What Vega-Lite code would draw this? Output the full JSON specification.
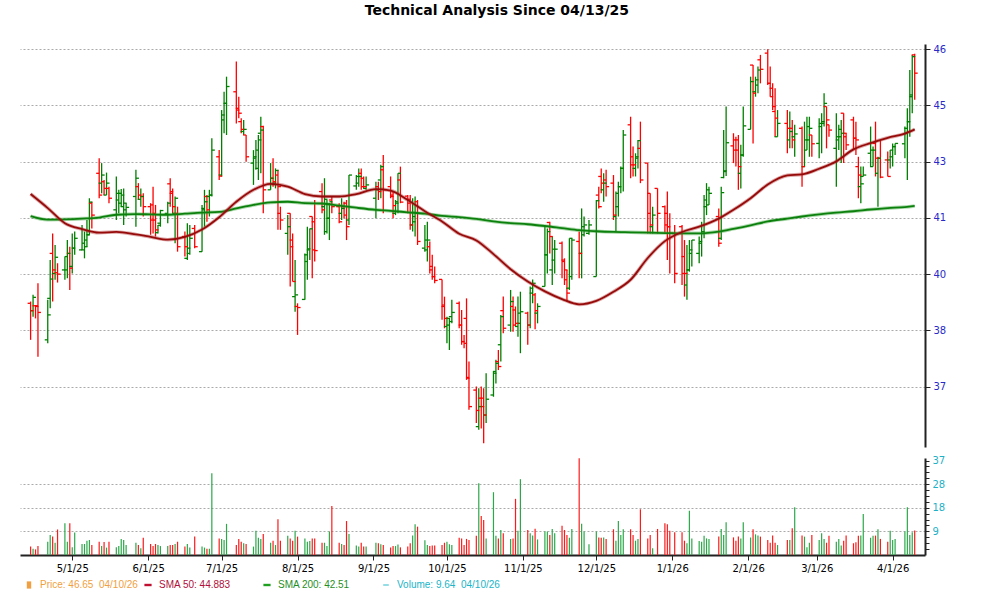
{
  "$schema": "https://vega.github.io/schema/vega-lite/v6.json",
  "autosize": {"type": "pad"},
  "padding": {"left": 20, "top": 4, "right": 5, "bottom": 5},
  "background": "white",
  "title": {"text": "Technical Analysis Since 04/13/25", "anchor": "middle", "font": "DejaVu Sans", "fontSize": 14, "fontWeight": "bold", "color": "#000000", "offset": 26, "dx": 14},
  "spacing": 11,
  "bounds": "flush",
  "datasets": {
    "ohlc": [
      {"d":"2025-04-14","o":38.97,"h":39.02,"l":37.93,"c":38.76,"v":3.3},
      {"d":"2025-04-15","o":38.76,"h":39.21,"l":38.59,"c":39.14,"v":2.4},
      {"d":"2025-04-16","o":38.90,"h":38.92,"l":38.54,"c":38.88,"v":2.2},
      {"d":"2025-04-17","o":38.90,"h":39.54,"l":37.45,"c":38.71,"v":3.5},
      {"d":"2025-04-21","o":37.93,"h":39.07,"l":37.83,"c":38.64,"v":5.2},
      {"d":"2025-04-22","o":39.11,"h":40.20,"l":38.83,"c":39.66,"v":7.8},
      {"d":"2025-04-23","o":40.39,"h":40.96,"l":39.02,"c":39.92,"v":7.2},
      {"d":"2025-04-24","o":39.82,"h":40.63,"l":39.64,"c":40.28,"v":4.8},
      {"d":"2025-04-25","o":39.84,"h":40.11,"l":39.56,"c":39.80,"v":10.0},
      {"d":"2025-04-28","o":39.92,"h":40.30,"l":39.64,"c":40.30,"v":12.4},
      {"d":"2025-04-29","o":39.92,"h":40.77,"l":39.68,"c":40.39,"v":5.2},
      {"d":"2025-04-30","o":40.39,"h":40.58,"l":39.35,"c":39.97,"v":12.4},
      {"d":"2025-05-01","o":40.02,"h":40.96,"l":39.82,"c":40.54,"v":3.0},
      {"d":"2025-05-02","o":40.54,"h":41.01,"l":40.35,"c":40.82,"v":8.8},
      {"d":"2025-05-05","o":40.49,"h":41.20,"l":40.49,"c":40.68,"v":4.3},
      {"d":"2025-05-06","o":40.49,"h":41.01,"l":40.25,"c":40.58,"v":4.3},
      {"d":"2025-05-07","o":40.77,"h":41.34,"l":40.58,"c":40.92,"v":5.6},
      {"d":"2025-05-08","o":40.92,"h":41.96,"l":40.92,"c":41.85,"v":5.9},
      {"d":"2025-05-09","o":41.82,"h":41.86,"l":41.10,"c":41.48,"v":3.9},
      {"d":"2025-05-12","o":42.67,"h":43.10,"l":41.96,"c":42.05,"v":5.2},
      {"d":"2025-05-13","o":42.39,"h":42.96,"l":42.10,"c":42.62,"v":3.5},
      {"d":"2025-05-14","o":42.43,"h":42.48,"l":42.05,"c":42.24,"v":5.1},
      {"d":"2025-05-15","o":42.05,"h":42.69,"l":42.05,"c":42.39,"v":2.9},
      {"d":"2025-05-16","o":42.24,"h":42.29,"l":41.82,"c":41.96,"v":5.2},
      {"d":"2025-05-19","o":41.63,"h":42.58,"l":41.34,"c":42.10,"v":3.0},
      {"d":"2025-05-20","o":41.91,"h":42.20,"l":41.53,"c":42.10,"v":3.5},
      {"d":"2025-05-21","o":41.82,"h":42.22,"l":41.72,"c":42.05,"v":6.3},
      {"d":"2025-05-22","o":41.72,"h":42.24,"l":41.20,"c":41.82,"v":5.9},
      {"d":"2025-05-23","o":41.63,"h":41.82,"l":41.44,"c":41.70,"v":3.9},
      {"d":"2025-05-27","o":42.01,"h":42.77,"l":41.15,"c":42.53,"v":4.8},
      {"d":"2025-05-28","o":42.29,"h":42.39,"l":41.91,"c":42.05,"v":3.9},
      {"d":"2025-05-29","o":41.93,"h":42.24,"l":41.72,"c":42.01,"v":2.6},
      {"d":"2025-05-30","o":42.01,"h":42.10,"l":41.44,"c":41.72,"v":6.8},
      {"d":"2025-06-02","o":41.72,"h":41.82,"l":40.92,"c":41.34,"v":4.3},
      {"d":"2025-06-03","o":41.77,"h":42.29,"l":40.96,"c":41.34,"v":3.5},
      {"d":"2025-06-04","o":41.53,"h":41.77,"l":40.87,"c":41.06,"v":4.3},
      {"d":"2025-06-05","o":40.98,"h":41.20,"l":40.96,"c":41.19,"v":3.9},
      {"d":"2025-06-06","o":41.25,"h":41.63,"l":41.15,"c":41.61,"v":3.5},
      {"d":"2025-06-09","o":41.53,"h":41.86,"l":41.25,"c":41.82,"v":3.5},
      {"d":"2025-06-10","o":42.37,"h":42.53,"l":41.72,"c":42.15,"v":3.9},
      {"d":"2025-06-11","o":42.10,"h":42.24,"l":41.53,"c":41.72,"v":3.9},
      {"d":"2025-06-12","o":41.53,"h":42.01,"l":40.68,"c":41.96,"v":4.3},
      {"d":"2025-06-13","o":41.53,"h":41.72,"l":40.44,"c":40.58,"v":5.2},
      {"d":"2025-06-16","o":40.87,"h":41.01,"l":40.30,"c":40.58,"v":3.3},
      {"d":"2025-06-17","o":40.25,"h":41.25,"l":40.20,"c":40.54,"v":4.3},
      {"d":"2025-06-18","o":40.39,"h":41.20,"l":40.35,"c":40.82,"v":2.9},
      {"d":"2025-06-20","o":41.10,"h":41.20,"l":40.54,"c":40.58,"v":7.2},
      {"d":"2025-06-23","o":40.44,"h":41.77,"l":40.44,"c":41.63,"v":3.3},
      {"d":"2025-06-24","o":41.67,"h":42.20,"l":41.15,"c":41.86,"v":2.9},
      {"d":"2025-06-25","o":42.01,"h":42.05,"l":41.29,"c":41.63,"v":2.4},
      {"d":"2025-06-26","o":42.01,"h":42.20,"l":41.44,"c":42.05,"v":2.4},
      {"d":"2025-06-27","o":42.05,"h":43.67,"l":42.01,"c":43.33,"v":32.0},
      {"d":"2025-06-30","o":43.14,"h":43.33,"l":42.48,"c":42.59,"v":6.5},
      {"d":"2025-07-01","o":42.62,"h":44.47,"l":42.58,"c":44.33,"v":6.3},
      {"d":"2025-07-02","o":44.19,"h":44.99,"l":43.81,"c":44.66,"v":5.9},
      {"d":"2025-07-03","o":44.66,"h":45.42,"l":43.76,"c":45.14,"v":12.2},
      {"d":"2025-07-07","o":44.99,"h":45.85,"l":44.09,"c":44.47,"v":3.9},
      {"d":"2025-07-08","o":44.52,"h":44.85,"l":44.24,"c":44.38,"v":6.3},
      {"d":"2025-07-09","o":44.14,"h":44.24,"l":43.81,"c":43.92,"v":5.2},
      {"d":"2025-07-10","o":43.86,"h":44.19,"l":43.76,"c":43.92,"v":4.6},
      {"d":"2025-07-11","o":43.76,"h":43.76,"l":43.00,"c":43.14,"v":4.3},
      {"d":"2025-07-14","o":42.96,"h":43.33,"l":42.34,"c":43.14,"v":3.3},
      {"d":"2025-07-15","o":43.10,"h":43.62,"l":42.77,"c":43.33,"v":9.5},
      {"d":"2025-07-16","o":42.81,"h":43.76,"l":42.48,"c":43.62,"v":6.8},
      {"d":"2025-07-17","o":43.81,"h":44.28,"l":42.67,"c":43.90,"v":6.3},
      {"d":"2025-07-18","o":44.00,"h":44.02,"l":41.53,"c":42.20,"v":8.2},
      {"d":"2025-07-21","o":42.20,"h":42.96,"l":42.20,"c":42.53,"v":4.8},
      {"d":"2025-07-22","o":42.53,"h":43.10,"l":42.29,"c":42.43,"v":5.6},
      {"d":"2025-07-23","o":42.39,"h":42.81,"l":42.24,"c":42.75,"v":3.9},
      {"d":"2025-07-24","o":42.62,"h":42.77,"l":41.06,"c":42.29,"v":14.0},
      {"d":"2025-07-25","o":41.53,"h":41.72,"l":41.06,"c":41.34,"v":5.6},
      {"d":"2025-07-28","o":40.96,"h":41.48,"l":40.35,"c":41.15,"v":7.5},
      {"d":"2025-07-29","o":41.53,"h":41.53,"l":39.45,"c":40.58,"v":6.5},
      {"d":"2025-07-30","o":40.77,"h":40.96,"l":39.59,"c":39.59,"v":5.6},
      {"d":"2025-07-31","o":39.16,"h":40.20,"l":38.73,"c":39.21,"v":9.5},
      {"d":"2025-08-01","o":38.88,"h":38.97,"l":38.07,"c":38.85,"v":7.2},
      {"d":"2025-08-04","o":39.08,"h":40.39,"l":39.07,"c":40.16,"v":6.5},
      {"d":"2025-08-05","o":40.35,"h":41.15,"l":39.64,"c":40.52,"v":5.2},
      {"d":"2025-08-06","o":40.49,"h":41.10,"l":40.20,"c":41.09,"v":5.5},
      {"d":"2025-08-07","o":41.44,"h":41.44,"l":39.68,"c":40.49,"v":6.5},
      {"d":"2025-08-08","o":41.29,"h":41.91,"l":40.16,"c":40.47,"v":6.5},
      {"d":"2025-08-11","o":42.15,"h":42.39,"l":41.53,"c":41.63,"v":4.8},
      {"d":"2025-08-12","o":41.72,"h":42.53,"l":40.92,"c":41.93,"v":4.8},
      {"d":"2025-08-13","o":41.01,"h":41.91,"l":40.96,"c":41.39,"v":3.5},
      {"d":"2025-08-14","o":41.39,"h":41.82,"l":40.77,"c":41.86,"v":9.2},
      {"d":"2025-08-15","o":41.91,"h":42.01,"l":41.53,"c":41.72,"v":19.2},
      {"d":"2025-08-18","o":41.72,"h":41.82,"l":41.25,"c":41.29,"v":4.8},
      {"d":"2025-08-19","o":41.53,"h":41.96,"l":41.34,"c":41.67,"v":4.3},
      {"d":"2025-08-20","o":41.72,"h":41.86,"l":41.39,"c":41.48,"v":3.9},
      {"d":"2025-08-21","o":41.82,"h":41.91,"l":40.77,"c":41.15,"v":13.3},
      {"d":"2025-08-22","o":41.34,"h":42.62,"l":41.20,"c":42.62,"v":8.2},
      {"d":"2025-08-25","o":42.31,"h":42.62,"l":42.20,"c":42.58,"v":3.7},
      {"d":"2025-08-26","o":42.39,"h":42.81,"l":42.29,"c":42.58,"v":3.3},
      {"d":"2025-08-27","o":42.67,"h":42.81,"l":42.20,"c":42.29,"v":4.8},
      {"d":"2025-08-28","o":42.53,"h":42.58,"l":42.24,"c":42.29,"v":3.3},
      {"d":"2025-08-29","o":42.24,"h":42.58,"l":42.20,"c":42.34,"v":3.3},
      {"d":"2025-09-02","o":41.96,"h":42.43,"l":41.39,"c":42.20,"v":4.8},
      {"d":"2025-09-03","o":42.29,"h":42.43,"l":41.91,"c":42.15,"v":4.6},
      {"d":"2025-09-04","o":42.48,"h":42.91,"l":41.96,"c":42.86,"v":4.2},
      {"d":"2025-09-05","o":42.77,"h":43.19,"l":41.53,"c":42.20,"v":3.9},
      {"d":"2025-09-08","o":42.29,"h":42.58,"l":41.96,"c":42.01,"v":2.9},
      {"d":"2025-09-09","o":42.05,"h":42.15,"l":41.39,"c":41.75,"v":3.5},
      {"d":"2025-09-10","o":41.53,"h":41.91,"l":41.48,"c":41.82,"v":3.5},
      {"d":"2025-09-11","o":41.86,"h":42.67,"l":41.53,"c":42.67,"v":4.1},
      {"d":"2025-09-12","o":42.48,"h":42.86,"l":41.82,"c":41.85,"v":3.0},
      {"d":"2025-09-15","o":42.02,"h":42.05,"l":41.53,"c":41.93,"v":3.3},
      {"d":"2025-09-16","o":41.82,"h":42.05,"l":41.06,"c":41.20,"v":4.6},
      {"d":"2025-09-17","o":41.20,"h":41.96,"l":41.01,"c":41.29,"v":7.6},
      {"d":"2025-09-18","o":41.44,"h":42.01,"l":40.87,"c":41.53,"v":12.0},
      {"d":"2025-09-19","o":41.86,"h":41.91,"l":40.63,"c":40.73,"v":11.1},
      {"d":"2025-09-22","o":40.54,"h":41.20,"l":40.44,"c":40.77,"v":5.8},
      {"d":"2025-09-23","o":40.49,"h":41.29,"l":40.16,"c":40.77,"v":3.9},
      {"d":"2025-09-24","o":40.58,"h":40.73,"l":39.82,"c":40.02,"v":3.5},
      {"d":"2025-09-25","o":39.92,"h":40.35,"l":39.64,"c":39.73,"v":3.7},
      {"d":"2025-09-26","o":39.73,"h":40.02,"l":39.54,"c":39.62,"v":3.7},
      {"d":"2025-09-29","o":39.65,"h":39.65,"l":38.50,"c":38.92,"v":3.9},
      {"d":"2025-09-30","o":38.88,"h":39.16,"l":38.26,"c":38.54,"v":4.8},
      {"d":"2025-10-01","o":38.31,"h":38.59,"l":37.83,"c":38.54,"v":5.2},
      {"d":"2025-10-02","o":38.35,"h":38.54,"l":37.64,"c":38.45,"v":4.2},
      {"d":"2025-10-03","o":38.59,"h":39.07,"l":38.40,"c":38.71,"v":3.9},
      {"d":"2025-10-06","o":38.97,"h":39.02,"l":38.26,"c":38.35,"v":6.8},
      {"d":"2025-10-07","o":38.35,"h":38.78,"l":37.79,"c":37.88,"v":6.5},
      {"d":"2025-10-08","o":37.88,"h":38.07,"l":37.69,"c":37.83,"v":3.9},
      {"d":"2025-10-09","o":38.54,"h":39.11,"l":36.79,"c":36.84,"v":6.3},
      {"d":"2025-10-10","o":36.86,"h":37.31,"l":35.94,"c":36.03,"v":5.9},
      {"d":"2025-10-13","o":36.50,"h":36.60,"l":35.56,"c":35.92,"v":7.5},
      {"d":"2025-10-14","o":35.46,"h":36.55,"l":35.37,"c":36.03,"v":28.1},
      {"d":"2025-10-15","o":36.27,"h":36.60,"l":35.41,"c":36.03,"v":15.3},
      {"d":"2025-10-16","o":36.27,"h":36.55,"l":34.99,"c":35.79,"v":13.7},
      {"d":"2025-10-17","o":35.79,"h":36.98,"l":35.56,"c":36.24,"v":6.5},
      {"d":"2025-10-20","o":36.36,"h":37.03,"l":36.31,"c":36.98,"v":24.6},
      {"d":"2025-10-21","o":37.03,"h":37.36,"l":36.69,"c":37.26,"v":7.5},
      {"d":"2025-10-22","o":37.31,"h":37.64,"l":37.07,"c":37.17,"v":6.5},
      {"d":"2025-10-23","o":37.79,"h":38.64,"l":37.31,"c":38.59,"v":9.8},
      {"d":"2025-10-24","o":38.76,"h":39.16,"l":38.12,"c":38.26,"v":8.5},
      {"d":"2025-10-27","o":38.35,"h":39.35,"l":38.16,"c":39.02,"v":6.3},
      {"d":"2025-10-28","o":38.88,"h":39.16,"l":38.16,"c":38.35,"v":6.5},
      {"d":"2025-10-29","o":38.78,"h":38.88,"l":38.31,"c":38.40,"v":22.0},
      {"d":"2025-10-30","o":38.31,"h":39.16,"l":38.02,"c":38.69,"v":9.5},
      {"d":"2025-10-31","o":38.40,"h":39.30,"l":37.55,"c":38.73,"v":29.7},
      {"d":"2025-11-03","o":38.69,"h":38.73,"l":37.79,"c":38.35,"v":9.8},
      {"d":"2025-11-04","o":38.35,"h":39.45,"l":38.26,"c":39.40,"v":8.5},
      {"d":"2025-11-05","o":39.26,"h":39.65,"l":38.97,"c":39.54,"v":7.6},
      {"d":"2025-11-06","o":39.21,"h":39.26,"l":38.23,"c":38.76,"v":10.3},
      {"d":"2025-11-07","o":38.69,"h":38.97,"l":38.40,"c":38.88,"v":6.1},
      {"d":"2025-11-10","o":39.45,"h":41.15,"l":39.45,"c":40.35,"v":9.2},
      {"d":"2025-11-11","o":40.35,"h":41.10,"l":39.82,"c":41.01,"v":9.2},
      {"d":"2025-11-12","o":41.27,"h":41.29,"l":40.39,"c":40.87,"v":7.8},
      {"d":"2025-11-13","o":39.92,"h":40.87,"l":39.49,"c":40.51,"v":10.2},
      {"d":"2025-11-14","o":40.20,"h":40.77,"l":39.82,"c":40.51,"v":8.5},
      {"d":"2025-11-17","o":40.68,"h":40.73,"l":39.68,"c":40.16,"v":11.5},
      {"d":"2025-11-18","o":40.20,"h":40.25,"l":39.49,"c":39.92,"v":9.8},
      {"d":"2025-11-19","o":39.64,"h":39.92,"l":39.02,"c":39.26,"v":7.8},
      {"d":"2025-11-20","o":39.40,"h":40.82,"l":39.35,"c":40.82,"v":6.8},
      {"d":"2025-11-21","o":39.73,"h":40.82,"l":39.64,"c":40.77,"v":10.2},
      {"d":"2025-11-24","o":40.73,"h":41.01,"l":39.68,"c":40.39,"v":37.9},
      {"d":"2025-11-25","o":40.39,"h":41.67,"l":39.68,"c":41.15,"v":12.2},
      {"d":"2025-11-26","o":40.92,"h":41.44,"l":40.87,"c":41.20,"v":9.2},
      {"d":"2025-11-28","o":40.96,"h":41.34,"l":40.92,"c":41.20,"v":4.2},
      {"d":"2025-12-01","o":39.73,"h":41.91,"l":39.73,"c":41.89,"v":9.2},
      {"d":"2025-12-02","o":42.05,"h":42.29,"l":41.67,"c":41.72,"v":6.9},
      {"d":"2025-12-03","o":42.58,"h":42.81,"l":42.10,"c":42.39,"v":6.8},
      {"d":"2025-12-04","o":42.20,"h":42.67,"l":41.86,"c":42.39,"v":6.9},
      {"d":"2025-12-05","o":42.48,"h":42.77,"l":42.01,"c":42.29,"v":6.3},
      {"d":"2025-12-08","o":42.39,"h":42.62,"l":41.34,"c":41.48,"v":10.1},
      {"d":"2025-12-09","o":41.44,"h":42.15,"l":41.01,"c":42.10,"v":5.6},
      {"d":"2025-12-10","o":41.72,"h":42.43,"l":41.44,"c":42.29,"v":13.3},
      {"d":"2025-12-11","o":42.29,"h":42.86,"l":42.10,"c":42.81,"v":7.8},
      {"d":"2025-12-12","o":42.81,"h":43.90,"l":42.15,"c":43.76,"v":10.1},
      {"d":"2025-12-15","o":44.05,"h":44.28,"l":42.53,"c":42.91,"v":10.1},
      {"d":"2025-12-16","o":43.14,"h":43.43,"l":42.58,"c":42.91,"v":7.8},
      {"d":"2025-12-17","o":42.81,"h":43.24,"l":42.58,"c":43.14,"v":5.6},
      {"d":"2025-12-18","o":43.10,"h":43.62,"l":42.81,"c":43.60,"v":6.3},
      {"d":"2025-12-19","o":43.38,"h":44.14,"l":42.39,"c":42.48,"v":17.9},
      {"d":"2025-12-22","o":42.96,"h":42.96,"l":40.96,"c":41.53,"v":6.5},
      {"d":"2025-12-23","o":42.10,"h":42.10,"l":40.96,"c":41.20,"v":7.8},
      {"d":"2025-12-24","o":41.15,"h":41.72,"l":40.96,"c":41.48,"v":2.6},
      {"d":"2025-12-26","o":42.24,"h":42.24,"l":40.96,"c":41.53,"v":10.2},
      {"d":"2025-12-29","o":41.72,"h":41.75,"l":40.98,"c":41.20,"v":12.4},
      {"d":"2025-12-30","o":41.53,"h":42.15,"l":40.20,"c":41.15,"v":12.0},
      {"d":"2025-12-31","o":41.15,"h":41.53,"l":39.82,"c":40.96,"v":9.5},
      {"d":"2026-01-02","o":40.96,"h":41.20,"l":39.54,"c":39.82,"v":8.9},
      {"d":"2026-01-05","o":41.15,"h":41.20,"l":39.49,"c":39.82,"v":8.9},
      {"d":"2026-01-06","o":40.30,"h":40.77,"l":39.16,"c":39.82,"v":5.6},
      {"d":"2026-01-07","o":39.49,"h":40.63,"l":39.07,"c":39.92,"v":4.6},
      {"d":"2026-01-08","o":39.92,"h":40.77,"l":39.87,"c":40.49,"v":17.3},
      {"d":"2026-01-09","o":40.39,"h":40.77,"l":40.02,"c":40.77,"v":6.5},
      {"d":"2026-01-12","o":40.39,"h":40.87,"l":40.11,"c":40.73,"v":5.5},
      {"d":"2026-01-13","o":40.68,"h":41.29,"l":40.30,"c":41.01,"v":5.2},
      {"d":"2026-01-14","o":40.96,"h":42.05,"l":40.82,"c":41.91,"v":7.5},
      {"d":"2026-01-15","o":41.72,"h":42.39,"l":41.48,"c":42.20,"v":6.5},
      {"d":"2026-01-16","o":41.77,"h":42.29,"l":41.77,"c":42.10,"v":6.3},
      {"d":"2026-01-20","o":41.44,"h":41.67,"l":40.58,"c":40.68,"v":7.2},
      {"d":"2026-01-21","o":40.82,"h":42.29,"l":40.77,"c":42.12,"v":10.2},
      {"d":"2026-01-22","o":42.55,"h":43.90,"l":42.53,"c":42.74,"v":7.8},
      {"d":"2026-01-23","o":42.72,"h":44.57,"l":42.59,"c":43.54,"v":12.8},
      {"d":"2026-01-26","o":43.45,"h":43.81,"l":42.96,"c":43.33,"v":6.9},
      {"d":"2026-01-27","o":43.62,"h":43.71,"l":42.86,"c":43.33,"v":5.6},
      {"d":"2026-01-28","o":43.62,"h":43.76,"l":42.20,"c":42.86,"v":7.2},
      {"d":"2026-01-29","o":42.67,"h":43.48,"l":42.24,"c":43.19,"v":6.5},
      {"d":"2026-01-30","o":43.19,"h":44.57,"l":43.14,"c":44.02,"v":12.8},
      {"d":"2026-02-02","o":43.92,"h":45.42,"l":43.92,"c":45.28,"v":6.9},
      {"d":"2026-02-03","o":45.75,"h":45.75,"l":43.52,"c":44.95,"v":10.1},
      {"d":"2026-02-04","o":44.99,"h":45.42,"l":44.85,"c":45.33,"v":8.1},
      {"d":"2026-02-05","o":45.18,"h":45.71,"l":44.95,"c":45.61,"v":7.6},
      {"d":"2026-02-06","o":45.90,"h":46.04,"l":45.23,"c":45.63,"v":7.2},
      {"d":"2026-02-09","o":46.09,"h":46.20,"l":45.18,"c":45.23,"v":5.9},
      {"d":"2026-02-10","o":45.23,"h":45.71,"l":44.85,"c":44.85,"v":4.8},
      {"d":"2026-02-11","o":45.09,"h":45.23,"l":44.47,"c":44.57,"v":7.6},
      {"d":"2026-02-12","o":44.43,"h":45.09,"l":43.71,"c":44.24,"v":4.8},
      {"d":"2026-02-13","o":43.71,"h":44.47,"l":43.71,"c":44.09,"v":3.9},
      {"d":"2026-02-17","o":44.09,"h":44.47,"l":43.24,"c":43.95,"v":5.9},
      {"d":"2026-02-18","o":43.62,"h":44.43,"l":43.38,"c":43.86,"v":5.9},
      {"d":"2026-02-19","o":43.95,"h":44.19,"l":43.38,"c":43.62,"v":10.5},
      {"d":"2026-02-20","o":43.71,"h":44.05,"l":43.14,"c":43.79,"v":18.7},
      {"d":"2026-02-23","o":43.95,"h":44.00,"l":42.29,"c":42.86,"v":7.6},
      {"d":"2026-02-24","o":42.86,"h":44.14,"l":42.86,"c":43.62,"v":7.2},
      {"d":"2026-02-25","o":43.33,"h":44.28,"l":43.33,"c":44.00,"v":3.0},
      {"d":"2026-02-26","o":43.62,"h":44.28,"l":43.14,"c":43.95,"v":4.8},
      {"d":"2026-02-27","o":43.76,"h":43.76,"l":43.14,"c":43.51,"v":7.8},
      {"d":"2026-03-02","o":43.52,"h":44.24,"l":43.10,"c":44.09,"v":5.9},
      {"d":"2026-03-03","o":44.00,"h":44.38,"l":43.24,"c":44.14,"v":8.5},
      {"d":"2026-03-04","o":44.09,"h":44.95,"l":44.00,"c":44.66,"v":6.3},
      {"d":"2026-03-05","o":44.57,"h":44.57,"l":43.38,"c":44.19,"v":4.8},
      {"d":"2026-03-06","o":44.05,"h":44.05,"l":43.71,"c":43.90,"v":7.5},
      {"d":"2026-03-09","o":43.38,"h":44.38,"l":42.29,"c":43.71,"v":5.2},
      {"d":"2026-03-10","o":43.62,"h":44.05,"l":43.33,"c":43.92,"v":6.3},
      {"d":"2026-03-11","o":43.71,"h":44.19,"l":42.96,"c":43.81,"v":3.7},
      {"d":"2026-03-12","o":44.38,"h":44.38,"l":42.96,"c":43.81,"v":5.6},
      {"d":"2026-03-13","o":43.71,"h":43.81,"l":43.33,"c":43.48,"v":7.6},
      {"d":"2026-03-16","o":44.19,"h":44.28,"l":43.33,"c":43.67,"v":4.6},
      {"d":"2026-03-17","o":43.67,"h":44.14,"l":43.19,"c":43.62,"v":5.0},
      {"d":"2026-03-18","o":42.86,"h":43.14,"l":41.96,"c":42.62,"v":7.5},
      {"d":"2026-03-19","o":42.29,"h":42.86,"l":41.82,"c":42.37,"v":7.6},
      {"d":"2026-03-20","o":42.58,"h":42.86,"l":42.58,"c":42.62,"v":16.1},
      {"d":"2026-03-23","o":43.24,"h":44.00,"l":42.86,"c":43.33,"v":6.8},
      {"d":"2026-03-24","o":42.86,"h":43.43,"l":42.86,"c":43.33,"v":7.5},
      {"d":"2026-03-25","o":43.52,"h":44.14,"l":42.58,"c":43.10,"v":7.6},
      {"d":"2026-03-26","o":42.67,"h":43.14,"l":41.72,"c":43.10,"v":10.1},
      {"d":"2026-03-27","o":43.10,"h":43.62,"l":42.53,"c":42.56,"v":6.3},
      {"d":"2026-03-30","o":43.05,"h":43.29,"l":42.58,"c":42.58,"v":5.2},
      {"d":"2026-03-31","o":43.05,"h":43.33,"l":42.81,"c":43.33,"v":9.5},
      {"d":"2026-04-01","o":43.14,"h":43.52,"l":42.86,"c":43.43,"v":5.9},
      {"d":"2026-04-02","o":43.43,"h":43.52,"l":43.19,"c":43.52,"v":6.3},
      {"d":"2026-04-06","o":43.51,"h":44.00,"l":43.10,"c":43.81,"v":9.2},
      {"d":"2026-04-07","o":43.95,"h":44.52,"l":42.48,"c":44.14,"v":18.7},
      {"d":"2026-04-08","o":44.14,"h":45.61,"l":43.71,"c":44.90,"v":7.8},
      {"d":"2026-04-09","o":44.85,"h":46.04,"l":44.38,"c":45.99,"v":8.9},
      {"d":"2026-04-10","o":46.04,"h":46.07,"l":44.76,"c":45.52,"v":9.64}
    ],
    "sma": [
      {"d":"2025-04-14","a":42.08,"b":41.45},
      {"d":"2025-04-21","a":41.68,"b":41.35},
      {"d":"2025-04-28","a":41.25,"b":41.36},
      {"d":"2025-05-05","a":41.08,"b":41.38},
      {"d":"2025-05-12","a":40.98,"b":41.41},
      {"d":"2025-05-19","a":41.00,"b":41.49},
      {"d":"2025-05-27","a":40.93,"b":41.51},
      {"d":"2025-06-02","a":40.86,"b":41.50},
      {"d":"2025-06-09","a":40.78,"b":41.49},
      {"d":"2025-06-16","a":40.86,"b":41.52},
      {"d":"2025-06-23","a":41.07,"b":41.55},
      {"d":"2025-06-30","a":41.42,"b":41.57},
      {"d":"2025-07-07","a":41.86,"b":41.67},
      {"d":"2025-07-14","a":42.20,"b":41.77},
      {"d":"2025-07-21","a":42.37,"b":41.84},
      {"d":"2025-07-28","a":42.29,"b":41.86},
      {"d":"2025-08-04","a":42.08,"b":41.82},
      {"d":"2025-08-11","a":42.01,"b":41.81},
      {"d":"2025-08-18","a":42.01,"b":41.75},
      {"d":"2025-08-25","a":42.08,"b":41.69},
      {"d":"2025-09-02","a":42.22,"b":41.63},
      {"d":"2025-09-08","a":42.18,"b":41.60},
      {"d":"2025-09-15","a":41.91,"b":41.56},
      {"d":"2025-09-22","a":41.59,"b":41.52},
      {"d":"2025-09-29","a":41.30,"b":41.46},
      {"d":"2025-10-06","a":40.95,"b":41.42},
      {"d":"2025-10-13","a":40.76,"b":41.37},
      {"d":"2025-10-20","a":40.37,"b":41.30},
      {"d":"2025-10-27","a":39.94,"b":41.25},
      {"d":"2025-11-03","a":39.59,"b":41.22},
      {"d":"2025-11-10","a":39.31,"b":41.17},
      {"d":"2025-11-17","a":39.09,"b":41.11},
      {"d":"2025-11-24","a":38.94,"b":41.05},
      {"d":"2025-12-01","a":39.04,"b":41.02},
      {"d":"2025-12-08","a":39.30,"b":41.00},
      {"d":"2025-12-15","a":39.64,"b":40.99},
      {"d":"2025-12-22","a":40.26,"b":40.98},
      {"d":"2025-12-29","a":40.74,"b":40.97},
      {"d":"2026-01-05","a":41.00,"b":40.96},
      {"d":"2026-01-12","a":41.15,"b":40.96},
      {"d":"2026-01-20","a":41.38,"b":41.01},
      {"d":"2026-01-26","a":41.63,"b":41.09},
      {"d":"2026-02-02","a":41.96,"b":41.19},
      {"d":"2026-02-09","a":42.35,"b":41.30},
      {"d":"2026-02-17","a":42.61,"b":41.38},
      {"d":"2026-02-23","a":42.64,"b":41.44},
      {"d":"2026-03-02","a":42.80,"b":41.50},
      {"d":"2026-03-09","a":43.01,"b":41.55},
      {"d":"2026-03-16","a":43.35,"b":41.59},
      {"d":"2026-03-23","a":43.53,"b":41.64},
      {"d":"2026-03-30","a":43.68,"b":41.68},
      {"d":"2026-04-06","a":43.80,"b":41.71},
      {"d":"2026-04-10","a":43.92,"b":41.74}
    ],
    "leg": [
      {"s":"Price: 46.65\u00a0 04/10/26"},
      {"s":"SMA 50: 44.883"},
      {"s":"SMA 200: 42.51"},
      {"s":"Volume: 9.64\u00a0 04/10/26"}
    ]
  },
  "vconcat": [
    {
      "width": 905,
      "height": 403,
      "data": {"name": "ohlc"},
      "encoding": {
        "x": {"field": "d", "type": "temporal", "title": null, "axis": null,
              "scale": {"type": "utc", "domain": [{"year":2025,"month":4,"date":9,"hours":16,"utc":true},{"year":2026,"month":4,"date":14,"hours":5,"utc":true}]}}
      },
      "layer": [
        {
          "mark": {"type": "rule", "strokeWidth": 1.3},
          "encoding": {
            "y": {"field": "h", "type": "quantitative", "title": null,
                  "scale": {"domain": [34.88, 46.35], "nice": false, "zero": false},
                  "axis": {"orient": "right", "values": [36.6, 38.2, 39.8, 41.4, 43.0, 44.6, 46.2], "format": ".0f",
                           "labelColor": "#2a2ac8", "labelFont": "DejaVu Sans", "labelFontSize": 10, "labelPadding": 3,
                           "domainColor": "#222222", "domainWidth": 2, "tickColor": "#222222", "tickSize": 5, "tickWidth": 1,
                           "grid": true, "gridDash": [2, 2], "gridColor": "#aaaaaa", "gridWidth": 1}},
            "y2": {"field": "l"},
            "color": {"condition": {"test": "datum.c >= datum.o", "value": "#008000"}, "value": "#ff0000"}
          }
        },
        {
          "mark": {"type": "rule", "strokeWidth": 1.3, "xOffset": -3, "x2Offset": 0},
          "encoding": {
            "x2": {"field": "d"},
            "y": {"field": "o", "type": "quantitative", "title": null},
            "color": {"condition": {"test": "datum.c >= datum.o", "value": "#008000"}, "value": "#ff0000"}
          }
        },
        {
          "mark": {"type": "rule", "strokeWidth": 1.3, "xOffset": 0, "x2Offset": 3},
          "encoding": {
            "x2": {"field": "d"},
            "y": {"field": "c", "type": "quantitative", "title": null},
            "color": {"condition": {"test": "datum.c >= datum.o", "value": "#008000"}, "value": "#ff0000"}
          }
        },
        {
          "data": {"name": "sma"},
          "mark": {"type": "line", "strokeWidth": 3.6, "color": "#2e9e2e", "opacity": 0.4, "interpolate": "monotone"},
          "encoding": {"y": {"field": "b", "type": "quantitative", "title": null}}
        },
        {
          "data": {"name": "sma"},
          "mark": {"type": "line", "strokeWidth": 1.8, "color": "#0c800c", "interpolate": "monotone"},
          "encoding": {"y": {"field": "b", "type": "quantitative", "title": null}}
        },
        {
          "data": {"name": "sma"},
          "mark": {"type": "line", "strokeWidth": 3.6, "color": "#b02828", "opacity": 0.4, "interpolate": "monotone"},
          "encoding": {"y": {"field": "a", "type": "quantitative", "title": null}}
        },
        {
          "data": {"name": "sma"},
          "mark": {"type": "line", "strokeWidth": 1.8, "color": "#960a0a", "interpolate": "monotone"},
          "encoding": {"y": {"field": "a", "type": "quantitative", "title": null}}
        }
      ]
    },
    {
      "width": 905,
      "height": 97,
      "layer": [
        {
          "data": {"name": "ohlc"},
          "mark": {"type": "rule", "strokeWidth": 1.2},
          "encoding": {
            "x": {"field": "d", "type": "temporal", "title": null,
                  "scale": {"type": "utc", "domain": [{"year":2025,"month":4,"date":9,"hours":16,"utc":true},{"year":2026,"month":4,"date":14,"hours":5,"utc":true}]},
                  "axis": {"orient": "bottom", "tickCount": {"interval": "month", "step": 1},
                           "labelExpr": "utcFormat(datum.value, '%-m/%-d/%y')",
                           "labelFont": "DejaVu Sans", "labelFontSize": 10, "labelColor": "#000000", "labelPadding": 3,
                           "labelOverlap": false, "labelFlush": false, "grid": false,
                           "domainColor": "#222222", "domainWidth": 2, "tickColor": "#222222", "tickSize": 5}},
            "y": {"field": "v", "type": "quantitative", "title": null,
                  "scale": {"domain": [0, 38], "nice": false},
                  "axis": {"orient": "right",
                           "values": [2.3125, 4.625, 6.9375, 9.25, 11.5625, 13.875, 16.1875, 18.5, 20.8125, 23.125, 25.4375, 27.75, 30.0625, 32.375, 34.6875, 37],
                           "labelExpr": "datum.value == 37 ? '37' : datum.value == 27.75 ? '28' : datum.value == 18.5 ? '18' : datum.value == 9.25 ? '9' : ''",
                           "labelColor": "#1fb0c6", "labelFont": "DejaVu Sans", "labelFontSize": 10, "labelPadding": 3,
                           "domainColor": "#222222", "domainWidth": 2, "tickColor": "#222222", "tickSize": 4,
                           "grid": true, "gridDash": [2, 2], "gridColor": "#aaaaaa",
                           "gridOpacity": {"condition": {"test": "datum.value == 9.25 || datum.value == 18.5 || datum.value == 27.75", "value": 1}, "value": 0}}},
            "y2": {"datum": 0},
            "color": {"condition": {"test": "datum.c >= datum.o", "value": "#2ca84a"}, "value": "#ff1a1a"}
          }
        },
        {
          "data": {"name": "leg"},
          "mark": {"type": "point", "filled": true, "opacity": 0, "size": 64},
          "encoding": {
            "color": {"field": "s", "type": "nominal",
                      "scale": {"domain": ["Price: 46.65\u00a0 04/10/26", "SMA 50: 44.883", "SMA 200: 42.51", "Volume: 9.64\u00a0 04/10/26"],
                                "range": ["#f0a040", "#c01030", "#20a020", "#20b8c8"]},
                      "legend": {"orient": "none", "legendX": 4, "legendY": 536, "direction": "horizontal", "title": null,
                                 "labelFont": "Liberation Sans", "labelFontSize": 10, "symbolSize": 64, "labelOffset": 6,
                                 "gridAlign": "all", "columnPadding": -2, "padding": 0, "symbolOpacity": 1, "labelLimit": 300,
                                 "encode": {
                                   "symbols": {"update": {"opacity": {"value": 1}, "fillOpacity": {"value": 1}, "strokeWidth": {"value": 0}}},
                                   "labels": {"update": {"fill": {"signal": "indexof(datum.value, 'Price') == 0 ? '#f0a040' : indexof(datum.value, 'SMA 50') == 0 ? '#b0103a' : indexof(datum.value, 'SMA 200') == 0 ? '#1f8f1f' : '#20b4c8'"}}}
                                 }}},
            "shape": {"field": "s", "type": "nominal",
                      "scale": {"domain": ["Price: 46.65\u00a0 04/10/26", "SMA 50: 44.883", "SMA 200: 42.51", "Volume: 9.64\u00a0 04/10/26"],
                                "range": ["M-0.55,-0.9H0.55V0.9H-0.55Z", "M-0.9,-0.3H0.9V0.3H-0.9Z", "M-0.9,-0.3H0.9V0.3H-0.9Z", "M-0.7,-0.12H0.7V0.12H-0.7Z"]}}
          }
        }
      ]
    }
  ],
  "config": {
    "view": {"stroke": null},
    "axis": {"labelFont": "DejaVu Sans"}
  }
}
